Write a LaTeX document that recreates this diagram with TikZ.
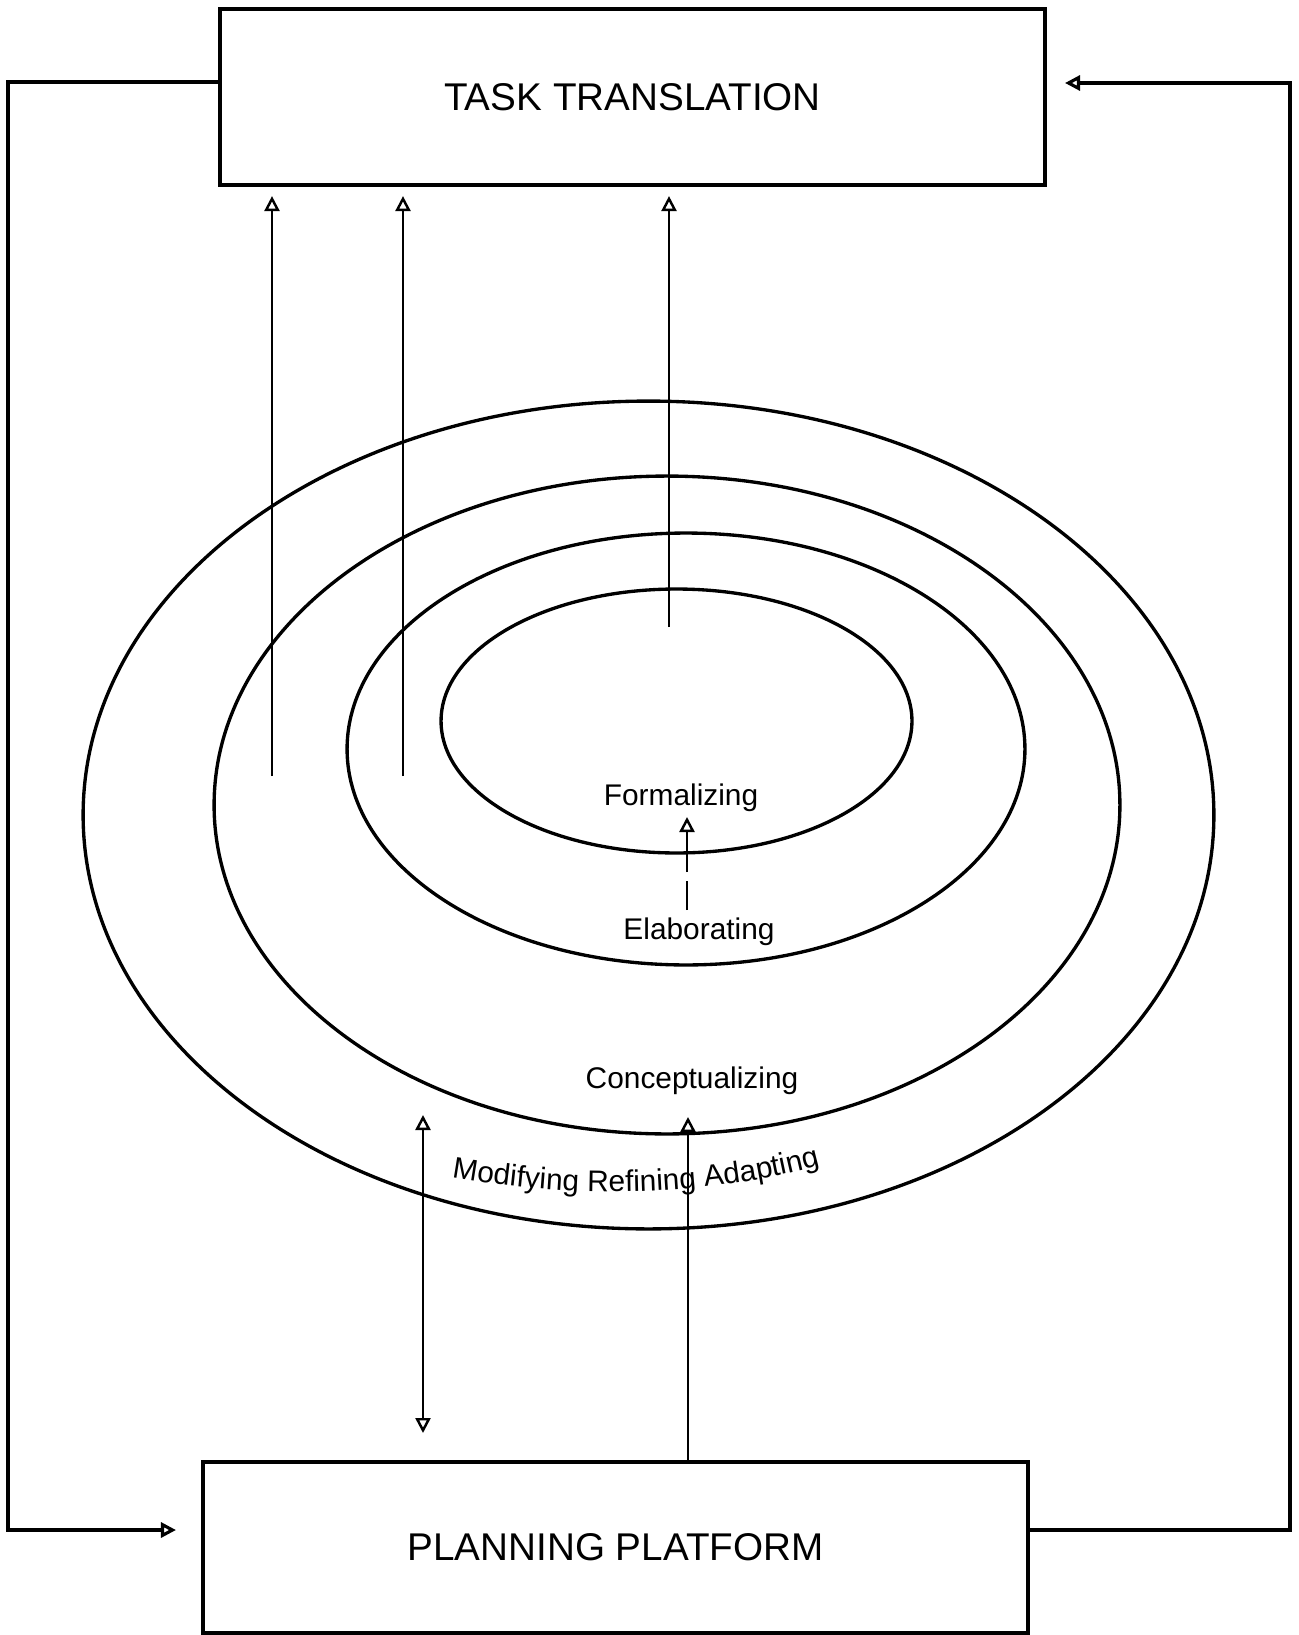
\documentclass[tikz,border=0pt]{standalone}
\usepackage{fontspec}
\setmainfont{Liberation Sans}
\usepackage{tikz}
\usetikzlibrary{arrows.meta, positioning, shapes.geometric, decorations.text}
\newcommand{\ringfont}{\fontsize{17}{20}\selectfont}
\tikzset{
	x=0.02cm, y=-0.02cm, % one unit is one pixel of the page, y runs downwards
	>={Triangle[open, length=3mm, width=3mm]}, % small hollow arrow heads
	box/.style={draw, line width=2.4pt, minimum width=16.5cm, inner sep=0pt, font=\fontsize{22}{26}\selectfont}, % the two big boxes
	ring/.style={draw, ellipse, line width=1.9pt, inner sep=0pt}, % the nested stages
	arr/.style={->, line width=1.4pt}, % plain arrows
	lbl/.style={anchor=base, inner sep=0pt, font=\ringfont}, % names of the stages
}
\begin{document}
\begin{tikzpicture}
		\useasboundingbox (0,0) rectangle (1298,1635);

		\node[box, minimum height=3.52cm] (task) at (632.5,97) {TASK TRANSLATION};
		\node[box, minimum height=3.42cm] (plan) at (615.5,1547.5) {PLANNING PLATFORM};

		% stages, outer to inner
		\node[ring, minimum width=22.62cm, minimum height=16.56cm] (r1) at (648.5,815) {};
		\node[ring, minimum width=18.12cm, minimum height=13.16cm] (r2) at (667,805) {};
		\node[ring, minimum width=13.56cm, minimum height=8.64cm] (r3) at (686,749) {};
		\node[ring, minimum width=9.42cm, minimum height=5.28cm] (r4) at (676.5,721) {};

		\node[lbl] (form) at (681,805) {Formalizing};
		\node[lbl] (elab) at (699,939) {Elaborating};
		\node[lbl] (conc) at (692,1088) {Conceptualizing};
		\path[decorate, decoration={text along path, text align=center,
				text={|\ringfont|Modifying Refining Adapting}}]
			(438,1175) .. controls (565,1199) and (705,1199) .. (834,1162);

		\coordinate (a1) at (272,776);
		\coordinate (a2) at (403,776);
		\coordinate (a3) at (669,627);
		\coordinate (e1) at (687,910);
		\coordinate (e2) at (687,817);
		\coordinate (b1) at (423,1115);
		\coordinate (b2) at (423,1433);
		\coordinate (c1) at (688,1117);

		\draw 	(a1) edge[arr, shorten >=0.18cm] (a1 |- task.south)
				(a2) edge[arr, shorten >=0.18cm] (a2 |- task.south)
				(a3) edge[arr, shorten >=0.18cm] (a3 |- task.south)
				(c1 |- plan.north) edge[arr] (c1);
		\draw[arr, dash pattern=on 0.58cm off 0.18cm on 3cm] (e1) -- (e2);
		\draw[<->, line width=1.4pt] (b1) -- (b2);

		% feedback round the outside
		\coordinate (l1) at (8,82);
		\coordinate (l2) at (8,1530);
		\coordinate (k1) at (1290,1530);
		\coordinate (k2) at (1290,83);
		\draw[->, line width=1.8pt, shorten >=0.5cm] (task.west |- l1) -- (l1) -- (l2) -- (plan.west |- l2);
		\draw[->, line width=1.8pt, shorten >=0.36cm] (plan.east |- k1) -- (k1) -- (k2) -- (task.east |- k2);
	\end{tikzpicture}
\end{document}
